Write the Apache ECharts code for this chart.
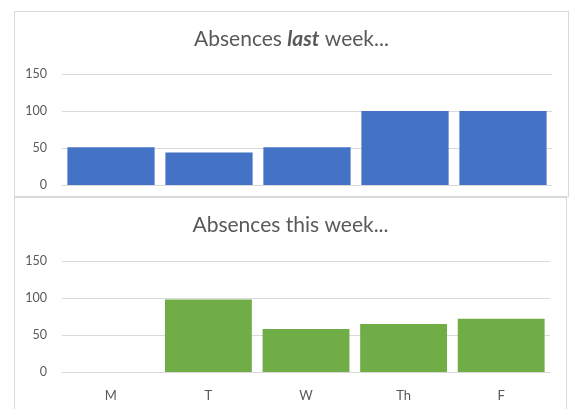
<!DOCTYPE html>
<html><head><meta charset="utf-8">
<script src="https://cdn.jsdelivr.net/npm/echarts@6/dist/echarts.min.js"></script>
<style>
html,body{margin:0;padding:0;background:#fff;width:574px;height:409px;overflow:hidden;position:relative;}
.panel{position:absolute;border:1px solid #d9d9d9;background:#fff;}
#c1{left:14px;top:11px;width:553px;height:184px;}
#c2{left:14px;top:197px;width:551px;height:228px;}
</style></head>
<body>
<div id="c1" class="panel"></div>
<div id="c2" class="panel"></div>
<script>
const categories = ['M','T','W','Th','F'];
const lastWeek = [51, 44, 51, 100, 100];
const thisWeek = [0, 98, 58, 65, 72];
const yTicks = [0, 50, 100, 150];

const FONT = 'Lato, "Open Sans", sans-serif';
function makeOption(titleText, rich, data, color, grid, showX, titleTop){
  return {
    animation:false,
    textStyle:{fontFamily:FONT},
    title:{text:titleText,left:'center',top:titleTop,
      textStyle:{fontFamily:FONT,fontSize:21,fontWeight:'normal',color:'#595959',rich:rich}},
    grid:grid,
    xAxis:{type:'category',data:categories,
      axisLine:{show:true,lineStyle:{color:'#d9d9d9'}},
      axisTick:{show:false},
      axisLabel:{show:showX,color:'#595959',fontSize:13,margin:17,fontFamily:FONT}},
    yAxis:{type:'value',min:yTicks[0],max:yTicks[yTicks.length-1],interval:yTicks[1]-yTicks[0],
      axisLine:{show:false},axisTick:{show:false},
      axisLabel:{color:'#595959',fontSize:12.5,margin:15,fontFamily:FONT},
      splitLine:{lineStyle:{color:'#d9d9d9'}}},
    series:[{type:'bar',data:data,barCategoryGap:'11%',itemStyle:{color:color}}]
  };
}
const ch1 = echarts.init(document.getElementById('c1'));
ch1.setOption(makeOption('Absences {b|last} week...',
  {b:{fontFamily:FONT,fontSize:21,fontWeight:'bold',fontStyle:'italic',color:'#595959'}},
  lastWeek,'#4472C4',{left:47,right:16,top:62,bottom:11},false,12));
const ch2 = echarts.init(document.getElementById('c2'));
ch2.setOption(makeOption('Absences this week...',{},
  thisWeek,'#70AD47',{left:47,right:16,top:63,bottom:54},true,12));
</script>
</body></html>
